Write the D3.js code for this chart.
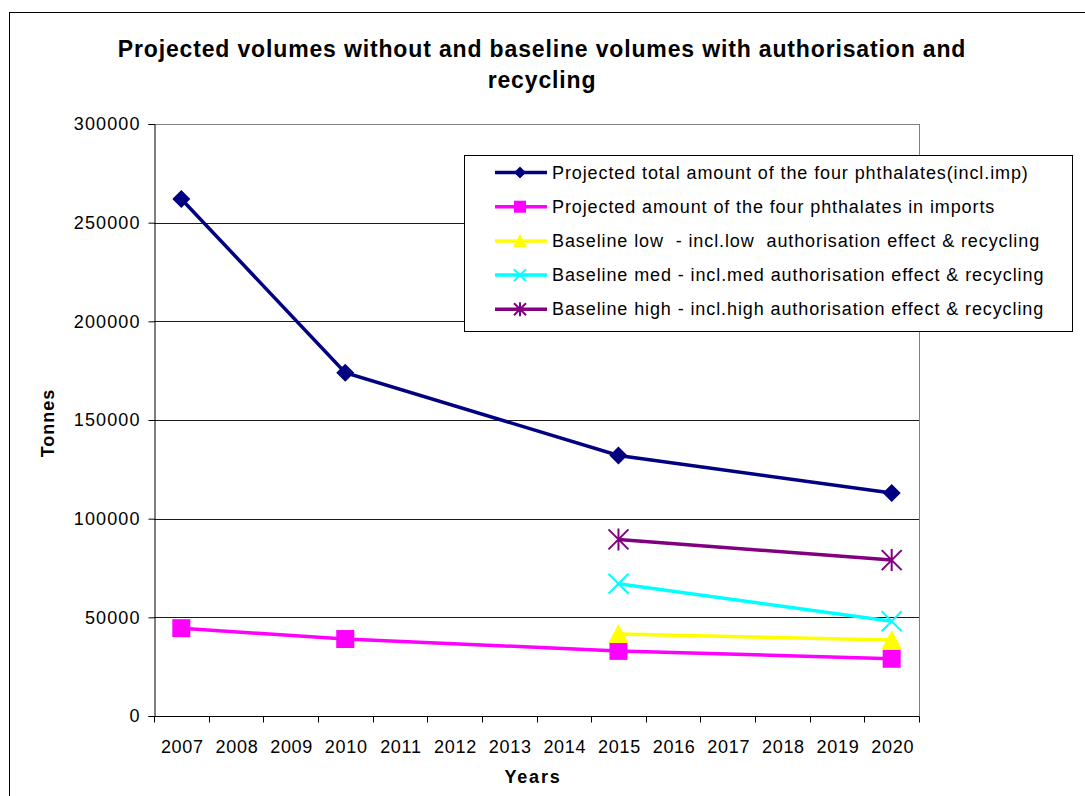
<!DOCTYPE html>
<html>
<head>
<meta charset="utf-8">
<script src="https://cdn.jsdelivr.net/npm/d3@7"></script>
<style>
  html, body { margin: 0; padding: 0; background: #fff; }
  svg { display: block; }
  text { font-family: "Liberation Sans", Arial, sans-serif; }
  .legend-label { white-space: pre; }
</style>
</head>
<body>
<svg id="chart" width="1085" height="796"></svg>
<script>
// Years on the category axis
const years = ["2007","2008","2009","2010","2011","2012","2013","2014","2015","2016","2017","2018","2019","2020"];

// Series values (tonnes)
const totalYears   = ["2007","2010","2015","2020"];
const totalValues  = [262000, 174000, 132000, 113000];
const importYears  = ["2007","2010","2015","2020"];
const importValues = [44500, 39000, 33000, 29000];
const lowYears     = ["2015","2020"];
const lowValues    = [41500, 38500];
const medYears     = ["2015","2020"];
const medValues    = [67000, 48000];
const highYears    = ["2015","2020"];
const highValues   = [89500, 79000];

const yTicks = [0, 50000, 100000, 150000, 200000, 250000, 300000];

const series = [
  { name: "Projected total amount of the four phthalates(incl.imp)", years: totalYears, values: totalValues, color: "#000080", marker: "diamond" },
  { name: "Projected amount of the four phthalates in imports", years: importYears, values: importValues, color: "#FF00FF", marker: "square" },
  { name: "Baseline low  - incl.low  authorisation effect & recycling", years: lowYears, values: lowValues, color: "#FFFF00", marker: "triangle" },
  { name: "Baseline med - incl.med authorisation effect & recycling", years: medYears, values: medValues, color: "#00FFFF", marker: "cross" },
  { name: "Baseline high - incl.high authorisation effect & recycling", years: highYears, values: highValues, color: "#800080", marker: "star" }
];

const svg = d3.select("#chart");

// Outer chart frame
svg.append("rect").attr("x", 9.5).attr("y", 12.5).attr("width", 1100).attr("height", 800)
  .attr("fill", "#fff").attr("stroke", "#000").attr("stroke-width", 1);

const plot = { left: 154, right: 919, top: 124, bottom: 716 };

const x = d3.scaleBand().domain(years).range([plot.left, plot.right]).padding(0);
const y = d3.scaleLinear().domain([0, 300000]).range([plot.bottom, plot.top]);
const cx = yr => x(yr) + x.bandwidth() / 2;

// Title
const title = svg.append("text").attr("text-anchor", "middle")
  .attr("font-size", 23).attr("font-weight", "bold").attr("letter-spacing", 0.85).attr("fill", "#000");
title.append("tspan").attr("x", 542).attr("y", 57).text("Projected volumes without and baseline volumes with authorisation and");
title.append("tspan").attr("x", 542).attr("y", 88).text("recycling");

// Horizontal gridlines
svg.append("g").selectAll("line").data(yTicks.filter(t => t > 0 && t < 300000)).join("line")
  .attr("x1", plot.left).attr("x2", plot.right)
  .attr("y1", d => Math.round(y(d)) + 0.5).attr("y2", d => Math.round(y(d)) + 0.5)
  .attr("stroke", "#1a1a1a").attr("stroke-width", 1);

// Plot area top and right borders
svg.append("line").attr("x1", plot.left).attr("x2", plot.right + 0.5)
  .attr("y1", plot.top + 0.5).attr("y2", plot.top + 0.5).attr("stroke", "#808080");
svg.append("line").attr("x1", plot.right + 0.5).attr("x2", plot.right + 0.5)
  .attr("y1", plot.top).attr("y2", plot.bottom).attr("stroke", "#808080");

// Y axis
const yAxis = d3.axisLeft(y).tickValues(yTicks).tickFormat(d3.format("d")).tickSize(6).tickPadding(8);
const gy = svg.append("g").attr("transform", `translate(${plot.left + 0.5},0)`).call(yAxis);
gy.attr("font-size", null).attr("font-family", null);
gy.selectAll("text").attr("font-size", 18).attr("letter-spacing", 1.1).attr("fill", "#000");
gy.selectAll("line").attr("stroke", "#000");
gy.select(".domain").attr("stroke", "#000");

// X axis: category ticks sit on the band boundaries
const gx = svg.append("g").attr("transform", `translate(0,${plot.bottom + 0.5})`);
gx.append("line").attr("x1", plot.left).attr("x2", plot.right + 0.5).attr("stroke", "#000");
const bounds = years.map(yr => x(yr)).concat([plot.right]);
gx.selectAll("line.tick").data(bounds).join("line").attr("class", "tick")
  .attr("x1", d => Math.round(d) + 0.5).attr("x2", d => Math.round(d) + 0.5)
  .attr("y1", 0).attr("y2", 6).attr("stroke", "#000");
gx.selectAll("text").data(years).join("text")
  .attr("x", d => cx(d) + 1).attr("y", 36).attr("text-anchor", "middle")
  .attr("font-size", 18).attr("letter-spacing", 0.7).attr("fill", "#000").text(d => d);

// Axis titles
svg.append("text").attr("transform", "translate(54,423) rotate(-90)")
  .attr("text-anchor", "middle").attr("font-size", 18).attr("font-weight", "bold")
  .attr("letter-spacing", 1).text("Tonnes");
svg.append("text").attr("x", 533).attr("y", 783)
  .attr("text-anchor", "middle").attr("font-size", 18).attr("font-weight", "bold")
  .attr("letter-spacing", 1.8).text("Years");

// Marker drawing
function drawMarker(g, type, color, px, py, size) {
  const s = size;
  if (type === "diamond") {
    g.append("path").attr("d", `M${px},${py - s}L${px + s},${py}L${px},${py + s}L${px - s},${py}Z`).attr("fill", color);
  } else if (type === "square") {
    g.append("rect").attr("x", px - s).attr("y", py - s).attr("width", 2 * s).attr("height", 2 * s).attr("fill", color);
  } else if (type === "triangle") {
    g.append("path").attr("d", `M${px},${py - s - 1}L${px + s + 1},${py + s}L${px - s - 1},${py + s}Z`).attr("fill", color);
  } else if (type === "cross") {
    g.append("path").attr("d", `M${px - s},${py - s}L${px + s},${py + s}M${px + s},${py - s}L${px - s},${py + s}`)
      .attr("stroke", color).attr("stroke-width", 2).attr("fill", "none");
  } else if (type === "star") {
    g.append("path").attr("d", `M${px - s},${py - s}L${px + s},${py + s}M${px + s},${py - s}L${px - s},${py + s}M${px},${py - s - 1}L${px},${py + s + 1}`)
      .attr("stroke", color).attr("stroke-width", 2).attr("fill", "none");
  }
}

const markerSize = { diamond: 9, square: 9, triangle: 9, cross: 10, star: 10 };
const legendMarkerSize = { diamond: 6, square: 6, triangle: 6, cross: 6, star: 6 };

const line = d3.line().x(d => cx(d.year)).y(d => y(d.value));

// Series lines and markers
series.forEach(s => {
  const pts = s.years.map((yr, i) => ({ year: yr, value: s.values[i] }));
  const g = svg.append("g");
  g.append("path").datum(pts).attr("d", line).attr("fill", "none")
    .attr("stroke", s.color).attr("stroke-width", 3.5);
  pts.forEach(p => drawMarker(g, s.marker, s.color, cx(p.year), y(p.value), markerSize[s.marker]));
});

// Legend
const lg = svg.append("g");
lg.append("rect").attr("x", 464.5).attr("y", 155.5).attr("width", 608).attr("height", 176)
  .attr("fill", "#fff").attr("stroke", "#000");
series.forEach((s, i) => {
  const ly = 172.5 + i * 34.2;
  lg.append("line").attr("x1", 495).attr("x2", 547).attr("y1", ly).attr("y2", ly)
    .attr("stroke", s.color).attr("stroke-width", 3.5);
  drawMarker(lg, s.marker, s.color, 520, ly, legendMarkerSize[s.marker]);
  lg.append("text").attr("class", "legend-label").attr("xml:space", "preserve")
    .attr("x", 552).attr("y", ly + 6).attr("font-size", 18)
    .attr("letter-spacing", 0.9).attr("fill", "#000").text(s.name);
});
</script>
</body>
</html>
